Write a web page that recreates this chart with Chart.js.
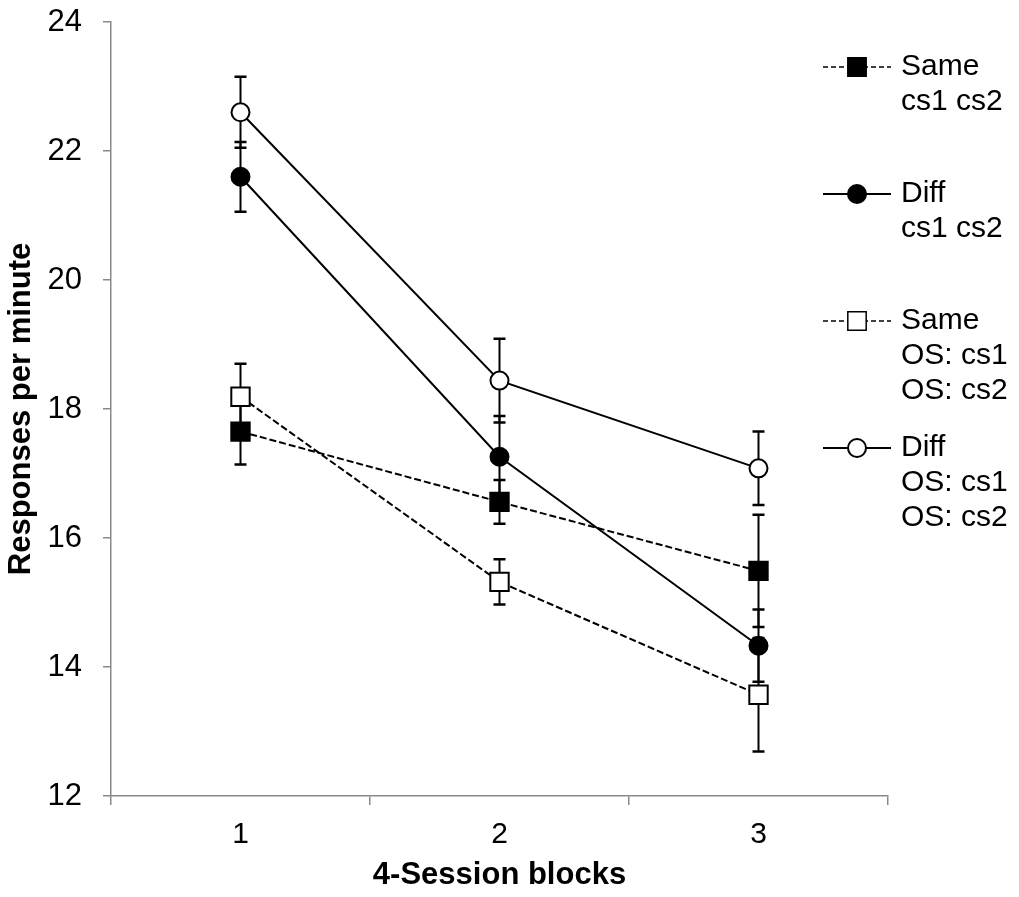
<!DOCTYPE html>
<html>
<head>
<meta charset="utf-8">
<script src="https://cdn.jsdelivr.net/npm/chart.js@4.4.1/dist/chart.umd.min.js"></script>
<style>
  html, body { margin: 0; padding: 0; background: #fff; }
  #wrap { width: 1019px; height: 897px; }
</style>
</head>
<body>
<div id="wrap"><canvas id="c" width="1019" height="897"></canvas></div>
<script>
// Session blocks on the x axis
const blocks = ['1', '2', '3'];

// Mean responses per minute and their standard errors
const sameCs     = [17.65, 16.56, 15.49];
const sameCsErr  = [0.51, 0.34, 0.87];
const diffCs     = [21.60, 17.26, 14.33];
const diffCsErr  = [0.54, 0.63, 0.56];
const sameOs     = [18.19, 15.32, 13.57];
const sameOsErr  = [0.51, 0.35, 0.88];
const diffOs     = [22.60, 18.44, 17.08];
const diffOsErr  = [0.55, 0.65, 0.57];

// Legend text, one entry per series, one string per line
const legendLines = [
  ['Same', 'cs1 cs2'],
  ['Diff', 'cs1 cs2'],
  ['Same', 'OS: cs1', 'OS: cs2'],
  ['Diff', 'OS: cs1', 'OS: cs2']
];

const yMin = 12, yMax = 24, yStep = 2;
const xTitle = '4-Session blocks';
const yTitle = 'Responses per minute';

const FONT = "'Liberation Sans', Arial, sans-serif";
const AXIS_GREY = '#898989';

const seriesValues = [sameCs, diffCs, sameOs, diffOs];
const seriesErrors = [sameCsErr, diffCsErr, sameOsErr, diffOsErr];

function makeDataset(i, dashed, style, filled) {
  return {
    label: legendLines[i].join(' '),
    data: seriesValues[i],
    errors: seriesErrors[i],
    borderColor: '#000',
    borderWidth: 2,
    borderDash: dashed ? [7, 3] : [],
    pointStyle: style,
    pointRadius: style === 'rect' ? 13 : 9,
    pointBorderWidth: 2,
    pointBorderColor: '#000',
    pointBackgroundColor: filled ? '#000' : '#fff',
    fill: false,
    tension: 0
  };
}

// Vertical standard-error bars with caps, drawn beneath the markers
const errorBarPlugin = {
  id: 'errorBars',
  beforeDatasetsDraw(chart) {
    const ctx = chart.ctx;
    const y = chart.scales.y;
    ctx.save();
    ctx.strokeStyle = '#000';
    ctx.setLineDash([]);
    chart.data.datasets.forEach((ds, di) => {
      const meta = chart.getDatasetMeta(di);
      meta.data.forEach((pt, i) => {
        const v = ds.data[i], e = ds.errors[i];
        const yt = y.getPixelForValue(v + e);
        const yb = y.getPixelForValue(v - e);
        const x = pt.x;
        ctx.lineWidth = 2;
        ctx.beginPath();
        ctx.moveTo(x, yt); ctx.lineTo(x, yb);
        ctx.stroke();
        ctx.lineWidth = 2.5;
        ctx.beginPath();
        ctx.moveTo(x - 6, yt); ctx.lineTo(x + 6, yt);
        ctx.moveTo(x - 6, yb); ctx.lineTo(x + 6, yb);
        ctx.stroke();
      });
    });
    ctx.restore();
  }
};

// Legend on the right: line sample with marker, then multi-line text
const sideLegendPlugin = {
  id: 'sideLegend',
  afterDraw(chart) {
    const ctx = chart.ctx;
    const x0 = 823, x1 = 891, xm = 857, xt = 901;
    const top = 67, entryStep = 127, linePitch = 35;
    ctx.save();
    chart.data.datasets.forEach((ds, i) => {
      const yc = top + i * entryStep;
      ctx.strokeStyle = '#000';
      ctx.lineWidth = ds.borderDash.length ? 1.5 : 2;
      ctx.setLineDash(ds.borderDash.length ? [5, 3] : []);
      ctx.beginPath();
      ctx.moveTo(x0, yc); ctx.lineTo(x1, yc);
      ctx.stroke();
      ctx.setLineDash([]);
      ctx.fillStyle = ds.pointBackgroundColor;
      ctx.strokeStyle = ds.pointBorderColor;
      Chart.helpers.drawPoint(ctx, {
        pointStyle: ds.pointStyle,
        radius: ds.pointRadius,
        rotation: 0,
        borderWidth: ds.pointBorderWidth
      }, xm, yc);
      ctx.fillStyle = '#000';
      ctx.font = '30px ' + FONT;
      ctx.textAlign = 'left';
      ctx.textBaseline = 'middle';
      legendLines[i].forEach((t, k) => ctx.fillText(t, xt, yc + k * linePitch));
    });
    ctx.restore();
  }
};

const whiteBg = {
  id: 'whiteBg',
  beforeDraw(chart) {
    const ctx = chart.ctx;
    ctx.save();
    ctx.fillStyle = '#fff';
    ctx.fillRect(0, 0, chart.width, chart.height);
    ctx.restore();
  }
};

new Chart(document.getElementById('c'), {
  type: 'line',
  data: {
    labels: blocks,
    datasets: [
      makeDataset(0, true, 'rect', true),
      makeDataset(1, false, 'circle', true),
      makeDataset(2, true, 'rect', false),
      makeDataset(3, false, 'circle', false)
    ]
  },
  options: {
    responsive: false,
    animation: false,
    events: [],
    layout: { padding: { left: 0, top: 22, right: 131, bottom: 0 } },
    plugins: {
      legend: { display: false },
      tooltip: { enabled: false }
    },
    scales: {
      x: {
        type: 'category',
        offset: true,
        afterFit(s) { s.height = 101; s.paddingLeft = 0; s.paddingRight = 0; },
        grid: { offset: true, drawOnChartArea: false, drawTicks: true, tickLength: 9, color: AXIS_GREY, lineWidth: 1.5 },
        border: { color: AXIS_GREY, width: 1.5 },
        ticks: { color: '#000', font: { family: FONT, size: 30 }, padding: 12, maxRotation: 0 },
        title: { display: true, text: xTitle, color: '#000', font: { family: FONT, size: 31, weight: 'bold' }, padding: { bottom: 3 } }
      },
      y: {
        type: 'linear',
        min: yMin,
        max: yMax,
        afterFit(s) { s.width = 111; s.paddingTop = 0; s.paddingBottom = 0; },
        grid: { drawOnChartArea: false, drawTicks: true, tickLength: 8, color: AXIS_GREY, lineWidth: 1.5 },
        border: { color: AXIS_GREY, width: 1.5 },
        ticks: { stepSize: yStep, color: '#000', font: { family: FONT, size: 31 }, padding: 21 },
        title: { display: true, text: yTitle, color: '#000', font: { family: FONT, size: 31, weight: 'bold' }, padding: { top: 3 } }
      }
    }
  },
  plugins: [whiteBg, errorBarPlugin, sideLegendPlugin]
});
</script>
</body>
</html>
